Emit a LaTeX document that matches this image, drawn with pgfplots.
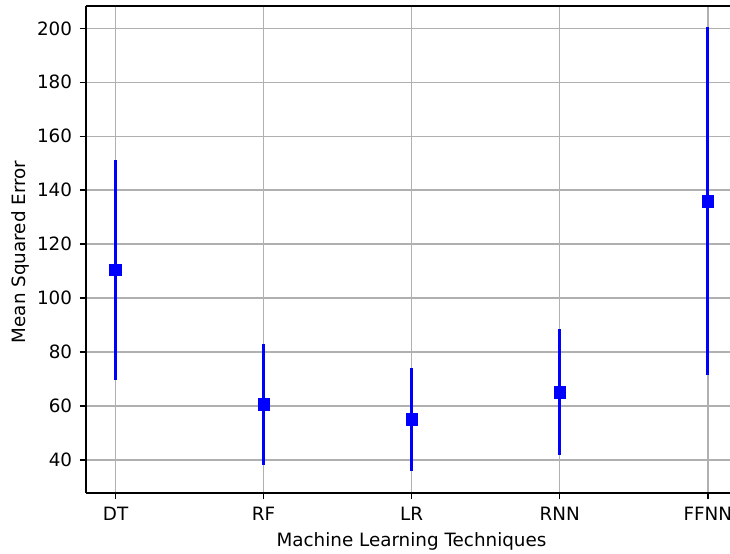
\documentclass[border=0pt]{standalone}
\usepackage{fontspec}
\setmainfont{DejaVu Sans}
\usepackage{pgfplots}
\pgfplotsset{compat=1.18}
\begin{document}
\begin{tikzpicture}
\begin{axis}[
  scale only axis,
  width=463.7pt, height=350.6pt,
  xmin=-0.2, xmax=4.15, ymin=27.8, ymax=208.3,
  axis lines*=left,
  axis line style={line width=1.06pt, black},
  xtick={0,1,2,3,4},
  xticklabels={DT,RF,LR,RNN,FFNN},
  ytick={40,60,80,100,120,140,160,180,200},
  grid=major,
  major grid style={line width=1.06pt, color=black!31},
  tick style={line width=1.06pt, black},
  tick align=outside,
  major tick length=4.6pt,
  tick label style={font=\fontsize{13.2}{15.8}\selectfont},
  xticklabel style={inner ysep=0pt, inner xsep=0pt, yshift=-5.3pt},
  yticklabel style={inner ysep=0pt, inner xsep=0pt, xshift=-5.2pt},
  /pgf/number format/assume math mode=true,
  xlabel={Machine Learning Techniques},
  ylabel={Mean Squared Error},
  label style={font=\fontsize{13.2}{15.8}\selectfont},
  x label style={at={(axis description cs:0.5054,0)}, yshift=-34.7pt, anchor=center},
  y label style={at={(axis description cs:-0.1022,0.495)}, anchor=center},
  clip=false,
]
\addplot[only marks, mark=square*, mark size=4.2pt, color=blue,
  error bars/.cd, y dir=both, y explicit,
  error bar style={line width=2pt, blue}, error mark=none]
  table[x=x, y=y, y error=e] {
x y e
0 110.5 40.8
1 60.6 22.5
2 55.1 19.1
3 65.1 23.4
4 136.0 64.4
};
\draw[line width=1.06pt, black] (rel axis cs:0,1) -- (rel axis cs:1,1);
\coordinate (sw) at (rel axis cs:0,0);
\coordinate (ne) at (rel axis cs:1,1);
\end{axis}
\pgfresetboundingbox
\path[use as bounding box] ([shift={(-61.9pt,-43.9pt)}]sw) rectangle ([shift={(0pt,4.3pt)}]ne);
\end{tikzpicture}
\end{document}
